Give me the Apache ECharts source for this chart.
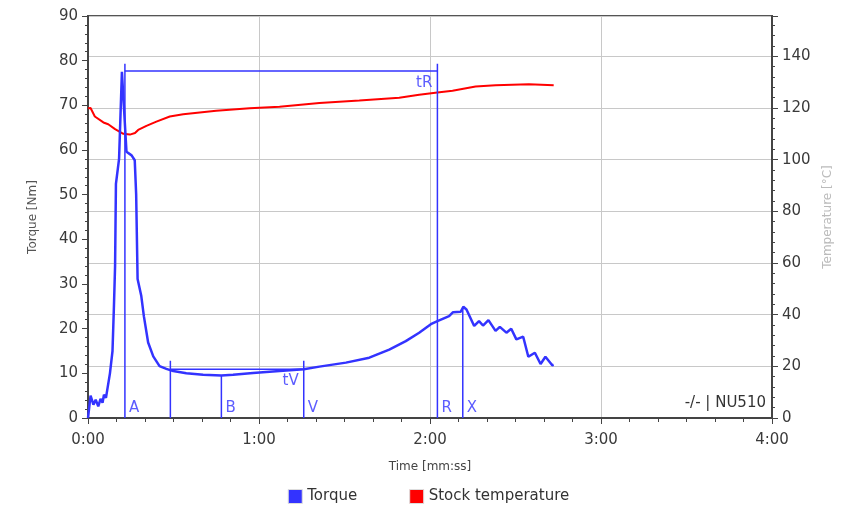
<!DOCTYPE html>
<html>
<head>
<meta charset="utf-8">
<script src="https://cdn.jsdelivr.net/npm/echarts@6/dist/echarts.min.js"></script>
<style>
html,body{margin:0;padding:0;background:#fff;}
#chart{width:857px;height:506px;}
</style>
</head>
<body>
<div id="chart"></div>
<script>
// ---- data (time in seconds) ----
const torqueTime = [0,0.9,1.9,2.7,3.6,4.4,5.1,5.6,6.3,6.8,7.7,8.6,9.1,9.5,9.8,10.9,11.9,12.6,13.5,15.3,16.4,16.9,17.4,18.7,19.6,21.1,22.9,25.1,27.5,29.9,34.5,40.4,46.8,50.9,57.9,67.2,75.7,81.2,90.5,98.7,105.7,111.5,116.2,120.3,122.6,126.7,128.1,130.8,131.7,132.8,135.5,137.2,138.6,140.5,143.0,144.5,146.8,148.5,150.3,152.7,154.5,156.8,158.8,160.5,162.9,163.4];
const torqueValues = [0,5.0,3.0,4.1,2.6,4.3,3.4,5.2,4.5,4.8,10,15,25,34,52.4,58,77.5,77.7,59.6,58.8,57.7,50,31.1,27.3,22.8,16.9,13.8,11.6,11.0,10.5,10.0,9.7,9.5,9.7,10.1,10.5,10.9,11.5,12.4,13.5,15.3,17.2,19.1,21.0,21.7,22.8,23.7,23.8,24.9,24.3,20.6,21.7,20.7,21.9,19.5,20.4,19.1,20.0,17.6,18.2,13.7,14.6,12.1,13.7,11.8,11.9];
const tempTime = [0,0.9,2.4,5.4,7.1,9.5,12.4,14.7,16.5,17.6,20.5,24,28.7,33.4,45,56.7,67.2,81.2,95.2,109.2,116.2,122.6,127.9,136,143,154.7,163.4];
const tempValues = [119.9,120,116.7,114.4,113.7,111.8,110,109.7,110.3,111.5,113.1,114.7,116.7,117.6,118.9,119.9,120.5,121.9,122.9,124.0,125.1,126.0,126.7,128.3,128.8,129.2,128.8];

// event markers
const markerNames = ['A','','B','V','R','X'];
const markerTimes = [12.95,28.9,46.8,75.7,122.6,131.5];
const markerTops  = [79.3,12.8,9.5,12.8,79.3,24.9];
// interval markers
const spanNames  = ['tR','tV'];
const spanStarts = [12.95,28.9];
const spanEnds   = [122.6,75.7];
const spanLevels = [77.7,10.9];

const infoText = '-/- | NU510';

const BLUE = '#3333ff', RED = '#ff0000';
const FONT = 'DejaVu Sans';

function fmt(v){const m=Math.floor(v/60), s=Math.round(v%60);return m+':'+(s<10?'0':'')+s;}

const series = [
  {name:'Torque',type:'line',yAxisIndex:0,data:torqueTime.map((t,i)=>[t,torqueValues[i]]),
   showSymbol:false,symbol:'none',lineStyle:{color:BLUE,width:2.5},itemStyle:{color:BLUE},z:5,silent:true},
  {name:'Stock temperature',type:'line',yAxisIndex:1,data:tempTime.map((t,i)=>[t,tempValues[i]]),
   showSymbol:false,symbol:'none',lineStyle:{color:RED,width:2},itemStyle:{color:RED},z:4,silent:true}
];
markerTimes.forEach((t,i)=>{
  series.push({type:'line',yAxisIndex:0,data:[[t,0],[t,markerTops[i]]],symbol:'none',silent:true,
    lineStyle:{color:BLUE,width:1.5},z:6});
});
spanNames.forEach((n,i)=>{
  series.push({type:'line',yAxisIndex:0,data:[[spanStarts[i],spanLevels[i]],[spanEnds[i],spanLevels[i]]],symbol:'none',silent:true,
    lineStyle:{color:BLUE,width:1.5},z:6});
});
series.push({type:'scatter',yAxisIndex:0,symbolSize:0,silent:true,
  data:markerTimes.map((t,i)=>({name:markerNames[i],value:[t,0]})),
  label:{show:true,position:'right',distance:4,offset:[0,-10],formatter:p=>p.name,color:BLUE,fontSize:15,fontFamily:FONT}});
series.push({type:'scatter',yAxisIndex:0,symbolSize:0,silent:true,
  data:spanNames.map((n,i)=>({name:n,value:[spanEnds[i],spanLevels[i]]})),
  label:{show:true,position:'left',distance:5,offset:[0,12],formatter:p=>p.name,color:BLUE,fontSize:15,fontFamily:FONT}});

const chart = echarts.init(document.getElementById('chart'));
chart.setOption({
  animation:false,
  backgroundColor:'#fff',
  textStyle:{fontFamily:FONT},
  grid:{left:88,right:85,top:16,bottom:88,show:true,borderColor:'#555',borderWidth:2,backgroundColor:'transparent'},
  legend:{top:484,left:'center',itemWidth:14,itemHeight:14,itemGap:52,itemTextGap:8,icon:'rect',
    data:['Torque','Stock temperature'],
    itemStyle:{borderColor:'#ddd',borderWidth:1},
    textStyle:{fontSize:15,color:'#333',fontFamily:FONT}},
  xAxis:{type:'value',min:0,max:240,interval:60,
    name:'Time [mm:ss]',nameLocation:'middle',nameGap:43,nameTextStyle:{fontSize:12,color:'#444',fontFamily:FONT},
    axisLine:{show:true,lineStyle:{color:'#444',width:2}},
    axisTick:{show:true,length:6,lineStyle:{color:'#444'}},
    minorTick:{show:true,splitNumber:6,length:4,lineStyle:{color:'#444'}},
    axisLabel:{formatter:fmt,fontSize:15,color:'#3a3a3a',margin:15,fontFamily:FONT},
    splitLine:{show:true,lineStyle:{color:'#c8c8c8',width:1}}},
  yAxis:[
    {type:'value',min:0,max:90,interval:10,position:'left',
     name:'Torque [Nm]',nameLocation:'middle',nameGap:49,nameTextStyle:{fontSize:12,color:'#555',fontFamily:FONT},
     axisLine:{show:true,lineStyle:{color:'#444',width:2}},
     axisTick:{show:true,length:6,lineStyle:{color:'#444'}},
     minorTick:{show:true,splitNumber:5,length:3,lineStyle:{color:'#444'}},
     axisLabel:{fontSize:15,color:'#3a3a3a',margin:10,fontFamily:FONT},
     splitLine:{show:false}},
    {type:'value',min:0,max:155.6,interval:20,position:'right',
     name:'Temperature [°C]',nameLocation:'middle',nameGap:50,nameTextStyle:{fontSize:12,color:'#bbb',fontFamily:FONT},
     axisLine:{show:true,lineStyle:{color:'#444',width:2}},
     axisTick:{show:true,length:6,lineStyle:{color:'#444'}},
     minorTick:{show:true,splitNumber:5,length:3,lineStyle:{color:'#444'}},
     axisLabel:{fontSize:15,color:'#3a3a3a',margin:10,fontFamily:FONT,showMaxLabel:false},
     splitLine:{show:true,lineStyle:{color:'#c8c8c8',width:1}}}
  ],
  graphic:[{type:'text',right:91,top:396,style:{text:infoText,fontSize:15,fill:'#333',fontFamily:FONT}}],
  series:series
});
</script>
</body>
</html>
